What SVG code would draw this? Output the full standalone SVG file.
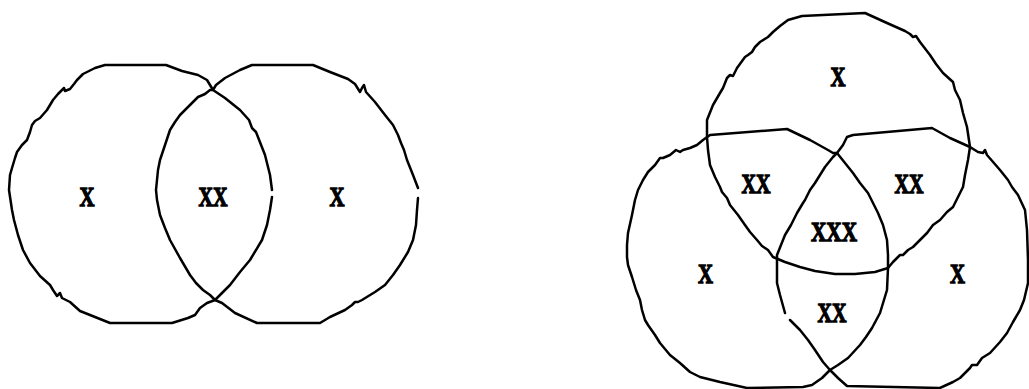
<svg xmlns="http://www.w3.org/2000/svg" width="1029" height="389" viewBox="0 0 1029 389">
<style>
.c{fill:none;stroke:#000;stroke-width:2.5;stroke-linejoin:round;stroke-linecap:round}
.t{font-family:"Liberation Serif","Times New Roman",serif;font-weight:bold;font-size:28px;fill:#000;stroke:#000;stroke-width:1.3;text-anchor:middle}
</style>
<rect width="1029" height="389" fill="#fff"/>
<g id="two-set">
<g id="set-left">
<path class="c" d="M272,190 L270,175 L265,155 L256,132 L252,128 L249,120 L240,110 L225,98 L213,90 L207,80 L198,75 L182,71 L166,65 L105,65 L95,68 L83,74 L77,80 L74,84 L70,89 L65,91 L64,88 L62,90 L58,94 L53,100 L47,110 L40,118 L35,121 L32,125 L30,132 L27,140 L22,145 L17,152 L15,158 L12,168 L10,175 L9,190 L12,210 L14,220 L18,235 L23,250 L30,263 L40,276 L50,285 L53,290 L57,296 L60,293 L62,298 L70,302 L80,311 L110,323 L172,323 L188,318 L195,315 L200,308 L207,303 L215,300 L222,293 L230,285 L240,272 L250,260 L262,240 L267,225 L270,210 L272,197"/>
</g>
<g id="set-right">
<path class="c" d="M418,198 L417,210 L416,225 L413,240 L408,252 L400,265 L393,275 L385,285 L375,292 L362,300 L358,302 L355,302 L352,305 L345,310 L330,317 L320,323 L257,323 L235,313 L222,303 L215,300 L210,295 L203,290 L196,283 L190,275 L180,258 L170,240 L165,228 L160,215 L157,200 L156,190 L158,170 L160,160 L165,145 L170,130 L175,122 L180,115 L190,105 L198,97 L205,94 L210,90 L213,90 L216,85 L225,78 L240,70 L252,65 L313,65 L330,72 L348,79 L355,84 L360,92 L362,88 L364,85 L366,92 L375,102 L385,115 L393,125 L398,135 L401,143 L404,150 L407,160 L413,175 L418,188"/>
</g>
<g id="labels-two">
<text class="t" x="87" y="205.5" textLength="15" lengthAdjust="spacingAndGlyphs">X</text>
<text class="t" x="213" y="205.5" textLength="29" lengthAdjust="spacingAndGlyphs">XX</text>
<text class="t" x="337" y="205.5" textLength="15" lengthAdjust="spacingAndGlyphs">X</text>
</g>
</g>
<g id="three-set">
<g id="set-top">
<path class="c" d="M802,16 L865,13 L887,23 L905,31 L910,34 L913,37 L916,36 L920,42 L930,55 L936,64 L943,73 L953,82 L955,90 L960,100 L963,113 L967,127 L970,147 L968,160 L965,175 L963,187 L958,197 L953,207 L947,212 L940,220 L933,225 L927,233 L920,240 L913,247 L908,250 L903,255 L900,255 L897,258 L893,262 L888,268 L875,272 L855,274 L835,274 L815,271 L800,267 L785,262 L773,257 L768,250 L765,248 L762,246 L757,240 L750,232 L745,225 L738,215 L730,205 L727,198 L722,192 L720,187 L715,177 L710,165 L708,150 L707,137 L707,120 L713,105 L720,93 L723,88 L727,78 L730,75 L733,76 L737,68 L745,57 L748,55 L752,52 L755,47 L760,42 L768,37 L773,32 L780,26 L788,20 Z"/>
</g>
<g id="set-bottom-left">
<path class="c" d="M710,135 L787,129 L810,140 L828,150 L833,153 L837,153 L845,163 L853,173 L860,183 L868,193 L873,203 L878,213 L883,225 L887,240 L888,255 L888,268 L887,290 L880,313 L872,328 L866,337 L860,345 L848,358 L838,365 L830,370 L822,378 L812,385 L803,387 L747,388 L720,382 L700,377 L690,372 L680,363 L670,355 L660,343 L655,335 L648,325 L645,320 L642,310 L640,300 L636,290 L632,277 L628,265 L627,257 L627,245 L628,233 L632,215 L635,200 L638,190 L643,180 L648,172 L655,165 L660,158 L663,158 L670,155 L676,150 L680,152 L683,150 L690,148 L697,145 L703,140 Z"/>
</g>
<g id="set-bottom-right">
<path class="c" d="M785,313 L780,295 L777,283 L777,265 L777,255 L781,245 L785,235 L791,225 L797,213 L803,203 L805,200 L810,190 L815,183 L820,175 L825,167 L833,157 L837,153 L843,145 L847,137 L853,135 L932,128 L950,138 L970,147 L978,152 L983,153 L985,150 L987,155 L1000,170 L1008,180 L1012,187 L1018,195 L1025,210 L1027,230 L1028,260 L1028,283 L1024,300 L1020,310 L1013,322 L1007,333 L1000,342 L990,353 L982,358 L977,365 L972,365 L970,368 L960,378 L953,382 L940,388 L847,386 L838,378 L830,370 L823,362 L815,350 L808,340 L800,330 L790,320"/>
</g>
<g id="labels-three">
<text class="t" x="838" y="85.5" textLength="15" lengthAdjust="spacingAndGlyphs">X</text>
<text class="t" x="756" y="192.5" textLength="29" lengthAdjust="spacingAndGlyphs">XX</text>
<text class="t" x="909" y="192.5" textLength="29" lengthAdjust="spacingAndGlyphs">XX</text>
<text class="t" x="834" y="240.5" textLength="46" lengthAdjust="spacingAndGlyphs">XXX</text>
<text class="t" x="705.5" y="282.5" textLength="15" lengthAdjust="spacingAndGlyphs">X</text>
<text class="t" x="957.5" y="282.5" textLength="15" lengthAdjust="spacingAndGlyphs">X</text>
<text class="t" x="832" y="321.5" textLength="29" lengthAdjust="spacingAndGlyphs">XX</text>
</g>
</g>
</svg>
